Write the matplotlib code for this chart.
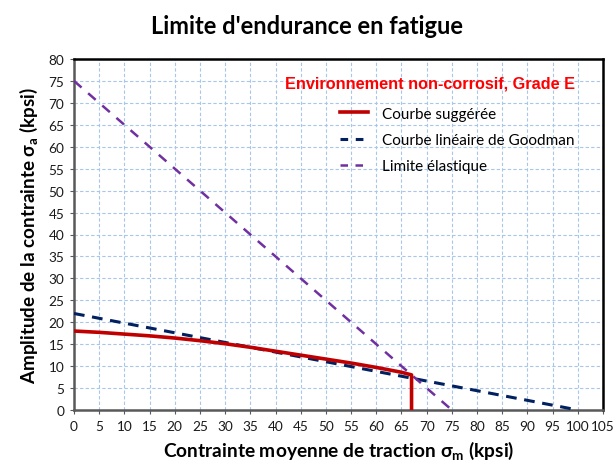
import matplotlib
matplotlib.use("Agg")
import matplotlib.pyplot as plt
from matplotlib.lines import Line2D

# Data
sm_suggested = [0, 5, 10, 15, 20, 25, 30, 35, 40, 45, 50, 55, 60, 65, 67, 67]
sa_suggested = [18.0, 17.7, 17.3, 16.9, 16.4, 15.8, 15.1, 14.3, 13.4, 12.5, 11.6, 10.7, 9.7, 8.6, 8.0, 0.0]
sm_goodman = [0, 100]
sa_goodman = [22, 0]
sm_yield = [0, 75]
sa_yield = [75, 0]
x_ticks = list(range(0, 106, 5))
y_ticks = list(range(0, 81, 5))

title = "Limite d'endurance en fatigue"
legend_title = "Environnement non-corrosif, Grade E"
labels = ["Courbe suggérée", "Courbe linéaire de Goodman", "Limite élastique"]

red = "#C00000"
navy = "#002060"
purple = "#7030A0"

fig = plt.figure(figsize=(6.14, 4.64), dpi=100)
ax = fig.add_axes([74/614, 1-411/464, (603-74)/614, (411-60)/464])

ax.plot(sm_suggested, sa_suggested, color=red, lw=2.6, solid_capstyle="butt", zorder=4)
ax.plot(sm_goodman, sa_goodman, color=navy, lw=2.2, ls=(0, (3.5, 2.5)), zorder=3)
ax.plot(sm_yield, sa_yield, color=purple, lw=1.8, ls=(0, (4, 3.5)), zorder=3)

ax.set_xlim(0, 105)
ax.set_ylim(0, 80)
ax.set_xticks(x_ticks)
ax.set_yticks(y_ticks)
ax.grid(True, color="#A9C6EA", ls=(0, (3, 2)), lw=0.8)
ax.set_axisbelow(True)

tick_font = "Lato"
for lab in ax.get_xticklabels() + ax.get_yticklabels():
    lab.set_fontfamily(tick_font)
    lab.set_fontsize(9.8)
ax.tick_params(axis="both", direction="out", length=3, color="#595959", labelcolor="#1a1a1a", pad=4)

for side in ["top", "right"]:
    ax.spines[side].set_color("black")
    ax.spines[side].set_linewidth(1.8)
for side in ["left", "bottom"]:
    ax.spines[side].set_color("#595959")
    ax.spines[side].set_linewidth(1.8)

fig.text(307/614, 1-26/464, title, ha="center", va="center", fontsize=17,
         fontweight="bold", family="Lato")
ax.set_xlabel("Contrainte moyenne de traction σ$_\\mathregular{m}$ (kpsi)", fontsize=13.8,
              fontweight="bold", family="Lato", labelpad=5)
ax.set_ylabel("Amplitude de la contrainte σ$_\\mathregular{a}$ (kpsi)", fontsize=13.6,
              fontweight="bold", family="Lato", labelpad=6)

handles = [Line2D([], [], color=red, lw=2.6),
           Line2D([], [], color=navy, lw=2.2, ls=(0, (2.5, 2.5))),
           Line2D([], [], color=purple, lw=1.8, ls=(0, (3, 3)))]
leg = ax.legend(handles, labels, loc="upper left", bbox_to_anchor=((329-74)/529, 1-(97-60)/351),
                frameon=False, prop={"family": "Lato", "size": 11},
                handlelength=1.85, handletextpad=0.9, labelspacing=0.8, borderpad=0.2)
fig.text(430/614, 1-84/464, legend_title, ha="center", va="center", fontsize=11.7,
         fontweight="bold", color="#FF0000", family="Liberation Sans")

fig.savefig("out.png", dpi=100)
